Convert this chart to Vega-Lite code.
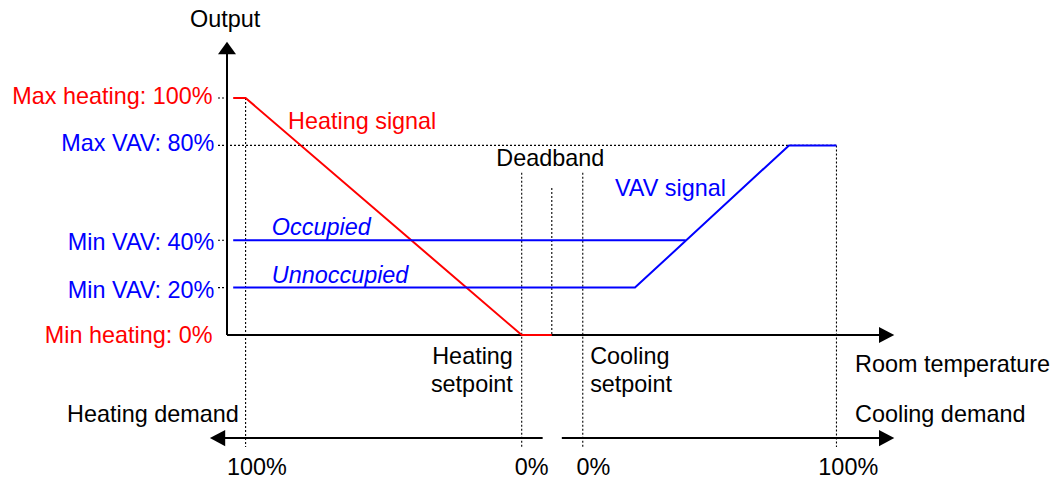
{
  "$schema": "https://vega.github.io/schema/vega-lite/v6.json",
  "width": 1053,
  "height": 481,
  "padding": 0,
  "autosize": {"type": "none"},
  "config": {"view": {"stroke": null}, "text": {"font": "Liberation Sans", "fontSize": 23.4}},
  "datasets": {
    "guides": [
      {"x": -3.05, "x2": 0, "y": 100, "y2": 100},
      {"x": -3.05, "x2": 206.6, "y": 80, "y2": 80},
      {"x": -3.05, "x2": 0, "y": 40, "y2": 40},
      {"x": -3.05, "x2": 0, "y": 20, "y2": 20},
      {"x": 6.3, "x2": 6.3, "y": 100, "y2": -47.3},
      {"x": 99.9, "x2": 99.9, "y": 68.5, "y2": -47.3},
      {"x": 110.1, "x2": 110.1, "y": 62, "y2": 0},
      {"x": 120.6, "x2": 120.6, "y": 68.5, "y2": -47.3},
      {"x": 206.6, "x2": 206.6, "y": 80, "y2": -47.3}
    ],
    "axes": [
      {"x": 0, "x2": 0, "y": 0, "y2": 118.6},
      {"x": 0, "x2": 221.4, "y": 0, "y2": 0},
      {"x": -1.4, "x2": 107.0, "y": -43.5, "y2": -43.5},
      {"x": 113.5, "x2": 221.4, "y": -43.5, "y2": -43.5}
    ],
    "arrows": [
      {"dir": "up", "x": 0, "y": 121.1},
      {"dir": "right", "x": 223.6, "y": 0},
      {"dir": "right", "x": 223.6, "y": -43.5},
      {"dir": "left", "x": -3.2, "y": -43.5}
    ],
    "signals": [
      {"curve": "heating", "series": "heating", "seq": 1, "x": 2.1, "y": 100},
      {"curve": "heating", "series": "heating", "seq": 2, "x": 6.3, "y": 100},
      {"curve": "heating", "series": "heating", "seq": 3, "x": 99.9, "y": 0},
      {"curve": "heating", "series": "heating", "seq": 4, "x": 110.1, "y": 0},
      {"curve": "occupied", "series": "vav", "seq": 1, "x": 2.1, "y": 40},
      {"curve": "occupied", "series": "vav", "seq": 2, "x": 155.5, "y": 40},
      {"curve": "unoccupied", "series": "vav", "seq": 1, "x": 2.1, "y": 20},
      {"curve": "unoccupied", "series": "vav", "seq": 2, "x": 138.3, "y": 20},
      {"curve": "unoccupied", "series": "vav", "seq": 3, "x": 190.5, "y": 80},
      {"curve": "unoccupied", "series": "vav", "seq": 4, "x": 206.6, "y": 80}
    ],
    "labelsRight": [
      {"text": "Max heating: 100%", "series": "heating", "x": -4.9, "y": 97.5},
      {"text": "Max VAV: 80%", "series": "vav", "x": -4.3, "y": 77.6},
      {"text": "Min VAV: 40%", "series": "vav", "x": -4.3, "y": 35.9},
      {"text": "Min VAV: 20%", "series": "vav", "x": -4.3, "y": 15.6},
      {"text": "Min heating: 0%", "series": "heating", "x": -4.9, "y": -3.4},
      {"text": "Heating\nsetpoint", "series": "neutral", "x": 96.9, "y": -12.4}
    ],
    "labelsLeft": [
      {"text": "Heating signal", "series": "heating", "x": 20.7, "y": 86.9},
      {"text": "VAV signal", "series": "vav", "x": 131.5, "y": 58.8},
      {"text": "Cooling\nsetpoint", "series": "neutral", "x": 123.1, "y": -12.4},
      {"text": "Room temperature", "series": "neutral", "x": 212.9, "y": -15.6},
      {"text": "Heating demand", "series": "neutral", "x": -54.2, "y": -36.7},
      {"text": "Cooling demand", "series": "neutral", "x": 212.9, "y": -36.7}
    ],
    "labelsItalic": [
      {"text": "Occupied", "series": "vav", "x": 15.2, "y": 42.2},
      {"text": "Unnoccupied", "series": "vav", "x": 15.2, "y": 21.9}
    ],
    "labelsCenter": [
      {"text": "Output", "series": "neutral", "x": -0.6, "y": 130.0},
      {"text": "Deadband", "series": "neutral", "x": 109.6, "y": 71.4},
      {"text": "100%", "series": "neutral", "x": 10.1, "y": -59.1},
      {"text": "0%", "series": "neutral", "x": 103.3, "y": -59.1},
      {"text": "0%", "series": "neutral", "x": 124.2, "y": -59.1},
      {"text": "100%", "series": "neutral", "x": 210.6, "y": -59.1}
    ]
  },
  "layer": [
    {
      "data": {"name": "guides"},
      "mark": {"type": "rule", "strokeDash": [2, 2], "strokeWidth": 1.1, "color": "#000000"},
      "encoding": {
        "x": {"field": "x", "type": "quantitative", "scale": {"domain": [-76.95, 280], "nice": false, "zero": false}, "axis": null},
        "x2": {"field": "x2"},
        "y": {"field": "y", "type": "quantitative", "scale": {"domain": [-61.6, 141.35], "nice": false, "zero": false}, "axis": null},
        "y2": {"field": "y2"}
      }
    },
    {
      "data": {"name": "axes"},
      "mark": {"type": "rule", "strokeWidth": 2, "color": "#000000"},
      "encoding": {
        "x": {"field": "x", "type": "quantitative"},
        "x2": {"field": "x2"},
        "y": {"field": "y", "type": "quantitative"},
        "y2": {"field": "y2"}
      }
    },
    {
      "data": {"name": "arrows"},
      "mark": {"type": "point", "filled": true, "opacity": 1, "size": 324, "color": "#000000", "strokeWidth": 0},
      "encoding": {
        "x": {"field": "x", "type": "quantitative"},
        "y": {"field": "y", "type": "quantitative"},
        "shape": {"field": "dir", "type": "nominal", "legend": null,
          "scale": {"domain": ["up", "right", "left"], "range": ["M-1,0.7L0,-0.7L1,0.7Z", "M-0.85,-0.9L0.85,0L-0.85,0.9Z", "M0.85,-0.9L-0.85,0L0.85,0.9Z"]}}
      }
    },
    {
      "data": {"name": "signals"},
      "mark": {"type": "line", "strokeWidth": 2},
      "encoding": {
        "x": {"field": "x", "type": "quantitative"},
        "y": {"field": "y", "type": "quantitative"},
        "detail": {"field": "curve"},
        "order": {"field": "seq", "type": "quantitative"},
        "color": {"field": "series", "type": "nominal", "legend": null,
          "scale": {"domain": ["heating", "vav", "neutral"], "range": ["#ff0000", "#0000ff", "#000000"]}}
      }
    },
    {
      "data": {"name": "labelsRight"},
      "mark": {"type": "text", "align": "right", "baseline": "alphabetic", "lineBreak": "\n", "lineHeight": 27.4},
      "encoding": {
        "x": {"field": "x", "type": "quantitative"},
        "y": {"field": "y", "type": "quantitative"},
        "text": {"field": "text"},
        "color": {"field": "series", "type": "nominal", "legend": null}
      }
    },
    {
      "data": {"name": "labelsLeft"},
      "mark": {"type": "text", "align": "left", "baseline": "alphabetic", "lineBreak": "\n", "lineHeight": 27.4},
      "encoding": {
        "x": {"field": "x", "type": "quantitative"},
        "y": {"field": "y", "type": "quantitative"},
        "text": {"field": "text"},
        "color": {"field": "series", "type": "nominal", "legend": null}
      }
    },
    {
      "data": {"name": "labelsItalic"},
      "mark": {"type": "text", "align": "left", "baseline": "alphabetic", "fontStyle": "italic"},
      "encoding": {
        "x": {"field": "x", "type": "quantitative"},
        "y": {"field": "y", "type": "quantitative"},
        "text": {"field": "text"},
        "color": {"field": "series", "type": "nominal", "legend": null}
      }
    },
    {
      "data": {"name": "labelsCenter"},
      "mark": {"type": "text", "align": "center", "baseline": "alphabetic"},
      "encoding": {
        "x": {"field": "x", "type": "quantitative"},
        "y": {"field": "y", "type": "quantitative"},
        "text": {"field": "text"},
        "color": {"field": "series", "type": "nominal", "legend": null}
      }
    }
  ]
}
